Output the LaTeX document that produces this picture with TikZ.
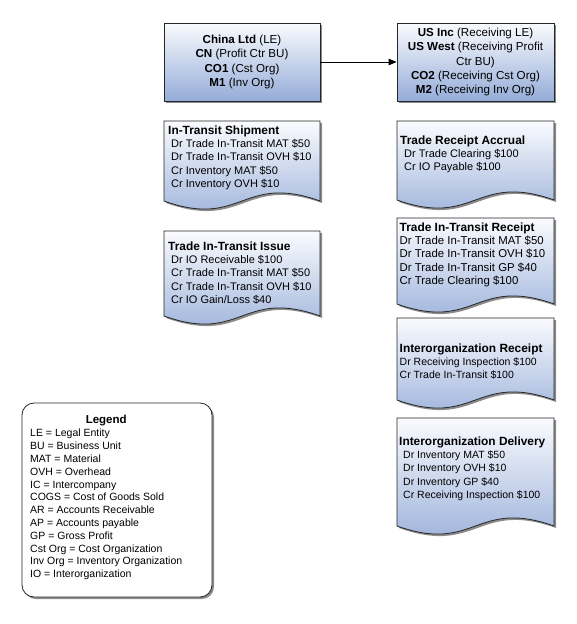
\documentclass[tikz,border=0pt]{standalone}
\usepackage{fontspec}
\setmainfont{Liberation Sans}
\usetikzlibrary{arrows.meta}
\definecolor{topblue}{RGB}{250,251,254}
\definecolor{botblue}{RGB}{148,172,216}
\definecolor{shadowgray}{RGB}{140,140,140}
\newcommand{\ttl}[1]{{\fontsize{11.9}{13.3}\selectfont\bfseries #1}}
\tikzset{
  txt/.style={font=\fontsize{11}{13.3}\selectfont},
  smalltxt/.style={font=\fontsize{10.5}{13.3}\selectfont},
  bigtxt/.style={font=\fontsize{11.4}{13.3}\selectfont},
  boxtxt/.style={font=\fontsize{11.6}{14.2}\selectfont},
  legtxt/.style={font=\fontsize{10.5}{12.8}\selectfont},
  bluebox/.style={draw=black!85, line width=0.8pt, top color=topblue, bottom color=botblue,
    align=center, inner sep=0pt, boxtxt},
  doctext/.style={anchor=north west, align=left, inner sep=0pt, txt},
  docline/.style={draw=black!85, line width=0.8pt, top color=topblue, bottom color=botblue},
  legendbox/.style={draw=black!85, line width=0.8pt, fill=white, rounded corners=12pt, inner sep=0pt},
  conn/.style={draw=black, line width=0.8pt, -{Triangle[length=8pt,width=6.5pt]}}
}
% document shape: #1,#2 = top-left; #3 = right x; #4 = y of bottom corners
\newcommand{\docpath}[4]{(#1,#2) -- (#3,#2) -- (#3,#4)
  .. controls ({(#1+#3)/2},{#4-28}) and ({(#1+#3)/2},{#4+28}) .. (#1,#4) -- cycle}
\newcommand{\docshape}[4]{%
  \fill[shadowgray, transform canvas={shift={(2pt,-2pt)}}] \docpath{#1}{#2}{#3}{#4};
  \path[docline] \docpath{#1}{#2}{#3}{#4};}
\begin{document}
\begin{tikzpicture}[x=1pt,y=-1pt]
\useasboundingbox (0,0) rectangle (576,624);

% top boxes
\fill[shadowgray] (166,25) rectangle (322,103);
\node[bluebox, minimum width=156pt, minimum height=78pt] (china) at (242,62)
  {\textbf{China Ltd} (LE)\\ \textbf{CN} (Profit Ctr BU)\\ \textbf{CO1} (Cst Org)\\ \textbf{M1} (Inv Org)};
\fill[shadowgray] (399,25) rectangle (556,103);
\node[bluebox, minimum width=157pt, minimum height=78pt] (us) at (475.5,62)
  {\textbf{US Inc} (Receiving LE)\\ \textbf{US West} (Receiving Profit\\ Ctr BU)\\ \textbf{CO2} (Receiving Cst Org)\\ \textbf{M2} (Receiving Inv Org)};
\draw[conn] (china.east) -- (us.west);

% left column documents
\docshape{164}{121}{320}{201}
\node[doctext] (ship) at (168,125.5)
  {\ttl{In-Transit Shipment}\\ \hspace*{3pt}Dr Trade In-Transit MAT \$50\\ \hspace*{3pt}Dr Trade In-Transit OVH \$10\\ \hspace*{3pt}Cr Inventory MAT \$50\\ \hspace*{3pt}Cr Inventory OVH \$10};

\docshape{164}{231}{320}{316}
\node[doctext] (issue) at (168,241.5)
  {\ttl{Trade In-Transit Issue}\\ \hspace*{3pt}Dr IO Receivable \$100\\ \hspace*{3pt}Cr Trade In-Transit MAT \$50\\ \hspace*{3pt}Cr Trade In-Transit OVH \$10\\ \hspace*{3pt}Cr IO Gain/Loss \$40};

% right column documents
\docshape{397}{121}{554}{200}
\node[doctext] (accrual) at (400,135.5)
  {\ttl{Trade Receipt Accrual}\\ \hspace*{4pt}Dr Trade Clearing \$100\\ \hspace*{4pt}Cr IO Payable \$100};

\docshape{397}{218}{554}{304}
\node[doctext, bigtxt] (titreceipt) at (399.5,222.5)
  {\ttl{Trade In-Transit Receipt}\\ Dr Trade In-Transit MAT \$50\\ Dr Trade In-Transit OVH \$10\\ Dr Trade In-Transit GP \$40\\ Cr Trade Clearing \$100};

\docshape{397}{318}{554}{400}
\node[doctext, smalltxt] (ioreceipt) at (399.5,343.5)
  {\ttl{Interorganization Receipt}\\ Dr Receiving Inspection \$100\\ Cr Trade In-Transit \$100};

\docshape{397}{418}{554}{526}
\node[doctext, smalltxt] (iodelivery) at (399,436.5)
  {\ttl{Interorganization Delivery}\\ \hspace*{4pt}Dr Inventory MAT \$50\\ \hspace*{4pt}Dr Inventory OVH \$10\\ \hspace*{4pt}Dr Inventory GP \$40\\ \hspace*{4pt}Cr Receiving Inspection \$100};

% legend
\fill[shadowgray, rounded corners=12pt] (24,405) rectangle (214,599);
\node[legendbox, minimum width=190pt, minimum height=194pt] (legend) at (117,500) {};
\node[doctext, legtxt] (legtext) at (30,429)
  {LE = Legal Entity\\ BU = Business Unit\\ MAT = Material\\ OVH = Overhead\\ IC = Intercompany\\
   COGS = Cost of Goods Sold\\ AR = Accounts Receivable\\ AP = Accounts payable\\ GP = Gross Profit\\
   Cst Org = Cost Organization\\ Inv Org = Inventory Organization\\ IO = Interorganization};
\node[anchor=south, inner sep=0pt, font=\fontsize{11.5}{13}\selectfont\bfseries] (legtitle) at ([yshift=3pt]legtext.north) {Legend};
\end{tikzpicture}
\end{document}
